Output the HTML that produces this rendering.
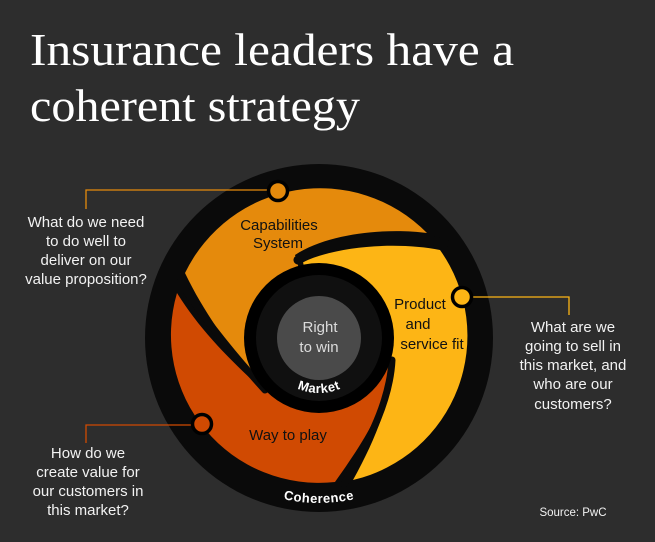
<!DOCTYPE html>
<html><head><meta charset="utf-8"><style>
html,body{margin:0;padding:0;background:#2d2d2d;}
svg{display:block}
</style></head><body>
<svg width="655" height="542" viewBox="0 0 655 542" xmlns="http://www.w3.org/2000/svg">
<rect width="655" height="542" fill="#2d2d2d"/>
<g font-family="Liberation Serif, serif" fill="#ffffff" font-size="46">
<text x="30" y="65" textLength="484" lengthAdjust="spacingAndGlyphs">Insurance leaders have a</text>
<text x="30" y="121" textLength="330" lengthAdjust="spacingAndGlyphs">coherent strategy</text>
</g>
<circle cx="319" cy="338" r="174" fill="#0a0a0a"/>
<path d="M177,293 A148,148 0 0 0 335,482 C365,440 390,400 392,360 L319,338 L263,390 C230,360 200,330 177,293 Z" fill="#D04A02"/>
<path d="M303,262 C340,245 400,242 440,250 A148,148 0 0 1 353,480 C375,440 392,400 392,360 L319,338 Z" fill="#FDB515"/>
<path d="M185,273 A150,150 0 0 1 427,233 C390,228 330,232 295,255 L319,338 L263,388 C235,355 205,315 185,273 Z" fill="#E58A0C"/>
<g fill="none" stroke="#0a0a0a" stroke-linecap="round">
<path d="M445,243 C400,234 340,236 298,260" stroke-width="9"/>
<path d="M180,282 C205,320 235,357 265,390" stroke-width="7"/>
<path d="M344,484 C370,440 390,400 392,360" stroke-width="7"/>
</g>
<circle cx="319" cy="338" r="75" fill="#000"/>
<circle cx="319" cy="338" r="63" fill="#101010"/>
<circle cx="319" cy="338" r="42" fill="#4a4a4a"/>
<g fill="none" stroke-width="1.3">
<path d="M86,209 V190 H270" stroke="#E58A0C"/>
<path d="M569,315 V297 H470" stroke="#FDB515"/>
<path d="M86,443 V425 H195" stroke="#D04A02"/>
</g>
<g stroke="#000" stroke-width="3.5">
<circle cx="278" cy="191" r="9.5" fill="#E58A0C"/>
<circle cx="462" cy="297" r="9.5" fill="#FDB515"/>
<circle cx="202" cy="424" r="9.5" fill="#D04A02"/>
</g>
<defs>
<path id="mk" d="M264,338 A55,55 0 0 0 374,338"/>
<path id="co" d="M154,338 A165,165 0 0 0 484,338"/>
</defs>
<g font-family="Liberation Sans, sans-serif" font-weight="bold" fill="#fff" font-size="13" letter-spacing="0.5">
<text><textPath href="#mk" startOffset="50%" text-anchor="middle">Market</textPath></text>
<text><textPath href="#co" startOffset="50%" text-anchor="middle">Coherence</textPath></text>
</g>
<g font-family="Liberation Sans, sans-serif" font-size="15" text-anchor="middle">
<g fill="#111">
<text x="279" y="230">Capabilities</text>
<text x="278" y="248">System</text>
<text x="420" y="309">Product</text>
<text x="418" y="329">and</text>
<text x="432" y="349">service fit</text>
<text x="288" y="440">Way to play</text>
</g>
<g fill="#dcdcdc">
<text x="320" y="332">Right</text>
<text x="319" y="352">to win</text>
</g>
<g fill="#f2f2f2">
<text x="86" y="227">What do we need</text>
<text x="86" y="246">to do well to</text>
<text x="86" y="265">deliver on our</text>
<text x="86" y="284">value proposition?</text>
<text x="88" y="458">How do we</text>
<text x="88" y="477">create value for</text>
<text x="88" y="496">our customers in</text>
<text x="88" y="515">this market?</text>
<text x="573" y="332">What are we</text>
<text x="573" y="351">going to sell in</text>
<text x="573" y="370">this market, and</text>
<text x="573" y="389">who are our</text>
<text x="573" y="409">customers?</text>
</g>
<text x="573" y="516" fill="#f2f2f2" font-size="11.5">Source: PwC</text>
</g>
</svg>
</body></html>
